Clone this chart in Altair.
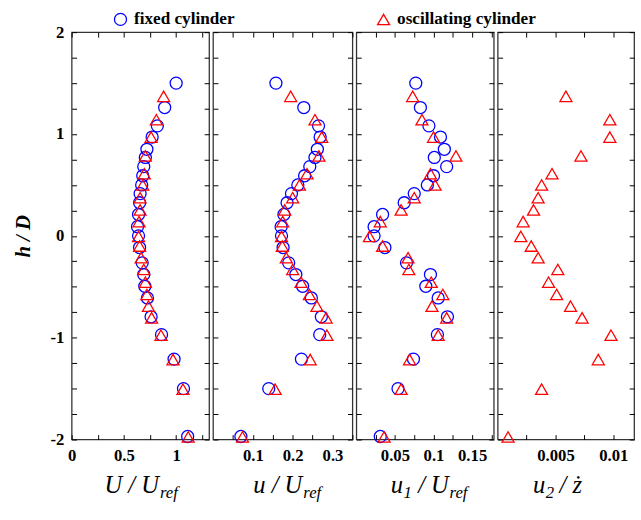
import altair as alt
import pandas as pd

SERIES = ["fixed cylinder", "oscillating cylinder"]

# vertical positions h/D
h_fixed = [1.50, 1.26, 1.08, 0.97, 0.85, 0.77, 0.68, 0.59, 0.50, 0.415, 0.325, 0.21, 0.09, 0.0,
           -0.115, -0.265, -0.38, -0.495, -0.61, -0.795, -0.97, -1.21, -1.50, -1.97]
h_osc = [1.37, 1.14, 0.97, 0.785, 0.61, 0.50, 0.375, 0.255, 0.14, -0.005, -0.10, -0.215, -0.33,
         -0.455, -0.575, -0.69, -0.805, -0.975, -1.215, -1.505, -1.975]

# panel values
U_fixed = [1.00, 0.89, 0.82, 0.77, 0.72, 0.705, 0.69, 0.68, 0.67, 0.655, 0.65, 0.64, 0.63, 0.64,
           0.65, 0.675, 0.69, 0.70, 0.725, 0.76, 0.86, 0.98, 1.07, 1.11]
U_osc = [0.88, 0.81, 0.76, 0.705, 0.695, 0.68, 0.655, 0.655, 0.645, 0.64, 0.65, 0.665, 0.69, 0.705,
         0.72, 0.735, 0.765, 0.855, 0.97, 1.065, 1.115]
u_fixed = [0.158, 0.228, 0.265, 0.269, 0.262, 0.256, 0.243, 0.230, 0.213, 0.197, 0.186, 0.178, 0.171,
           0.172, 0.176, 0.190, 0.208, 0.225, 0.247, 0.272, 0.268, 0.222, 0.140, 0.070]
u_osc = [0.195, 0.256, 0.273, 0.266, 0.236, 0.217, 0.200, 0.180, 0.175, 0.172, 0.174, 0.184, 0.200,
         0.221, 0.242, 0.261, 0.284, 0.286, 0.244, 0.156, 0.074]
u1_fixed = [0.077, 0.083, 0.094, 0.109, 0.114, 0.101, 0.117, 0.100, 0.092, 0.075, 0.062, 0.034, 0.023,
            0.023, 0.037, 0.065, 0.096, 0.090, 0.106, 0.118, 0.105, 0.074, 0.054, 0.031]
u1_osc = [0.073, 0.085, 0.100, 0.129, 0.096, 0.102, 0.075, 0.058, 0.031, 0.017, 0.034, 0.067, 0.068,
          0.097, 0.112, 0.098, 0.117, 0.106, 0.069, 0.058, 0.036]
u2_osc = [0.0059, 0.0097, 0.0097, 0.0072, 0.0047, 0.0038, 0.0035, 0.0031, 0.0022, 0.0020, 0.0029,
          0.0035, 0.0052, 0.0044, 0.0051, 0.0063, 0.0073, 0.0098, 0.0087, 0.0038, 0.0009]

# axis ticks / labels
y_labels = [-2, -1, 0, 1, 2]
y_ticks = [round(-2 + 0.25 * i, 2) for i in range(17)]
x1_labels = [0, 0.5, 1]
x1_ticks = [0, 0.25, 0.5, 0.75, 1, 1.25]
x2_labels = [0.1, 0.2, 0.3]
x2_ticks = [0.05, 0.1, 0.15, 0.2, 0.25, 0.3, 0.35]
x3_labels = [0.05, 0.1, 0.15]
x3_ticks = [0.025, 0.05, 0.075, 0.1, 0.125, 0.15, 0.175]
x4_labels = [0.005, 0.01]
x4_ticks = [0.0025, 0.005, 0.0075, 0.01]

H = 415
FONT = "Liberation Serif"
TY = H + 54   # baseline of main title text
SY = H + 60   # baseline of subscript text

# axis titles (text, x, y, size, align)
t1 = [("U / U", 89, TY, 25, "right"), ("ref", 90, SY, 17, "left")]
t2 = [("u / U", 91, TY, 25, "right"), ("ref", 92, SY, 17, "left")]
t3 = [("u", 47.5, TY, 25, "right"), ("1", 48, SY, 17, "left"), ("/ U", 63, TY, 25, "left"),
      ("ref", 95, SY, 17, "left")]
t4 = [("u", 48.5, TY, 25, "right"), ("2", 49, SY, 17, "left"), ("/ ż", 63, TY, 25, "left")]


def long_df(xf, xo):
    rows = []
    if xf is not None:
        rows += [{"h": h, "v": v, "s": SERIES[0]} for h, v in zip(h_fixed, xf)]
    rows += [{"h": h, "v": v, "s": SERIES[1]} for h, v in zip(h_osc, xo)]
    return pd.DataFrame(rows)


def tick_axis(orient, offset, values):
    return alt.Axis(orient=orient, offset=offset, values=values, labels=False, domain=False,
                    grid=False, title=None, ticks=True, tickSize=5, tickColor="black", tickWidth=1)


def legend():
    return alt.Legend(title=None, orient="none", legendX=41, legendY=-22, direction="horizontal",
                      columnPadding=142, labelFont=FONT, labelFontSize=17.5, labelFontWeight="bold",
                      labelColor="black", symbolSize=150, symbolStrokeWidth=1.3, labelOffset=5,
                      padding=0)


def panel(df, W, dom, lab_vals, tick_vals, pieces, first):
    xs = alt.Scale(domain=dom, nice=False, zero=False)
    ys = alt.Scale(domain=[-2, 2], nice=False, zero=False)
    xlab = alt.Axis(orient="bottom", values=lab_vals, labelExpr="toString(datum.value)", ticks=False,
                    domain=False, grid=False, title=None, labelFont=FONT, labelFontSize=17,
                    labelFontWeight="bold", labelColor="black", labelPadding=8, labelOverlap=False,
                    labelFlush=False)
    if first:
        ylab = alt.Axis(orient="left", values=y_labels, labelExpr="toString(datum.value)", ticks=False,
                        domain=False, grid=False, title="h / D", titleFont=FONT, titleFontSize=21,
                        titleFontStyle="italic", titleFontWeight="bold", titleColor="black",
                        titlePadding=17, labelFont=FONT, labelFontSize=17, labelFontWeight="bold",
                        labelColor="black", labelPadding=8, labelOverlap=False, labelFlush=False)
    else:
        ylab = None
    base = alt.Chart(df)
    pts = base.mark_point(filled=False, size=150, strokeWidth=1.3, opacity=1).encode(
        x=alt.X("v:Q", scale=xs, axis=xlab),
        y=alt.Y("h:Q", scale=ys, axis=ylab),
        color=alt.Color("s:N", scale=alt.Scale(domain=SERIES, range=["#0000ff", "#ff0000"]), legend=legend()),
        shape=alt.Shape("s:N", scale=alt.Scale(domain=SERIES, range=["circle", "triangle-up"]), legend=legend()),
    )
    inv1 = base.mark_point(opacity=0).encode(
        x=alt.X("v:Q", scale=xs, axis=tick_axis("top", -H, tick_vals)),
        y=alt.Y("h:Q", scale=ys, axis=tick_axis("right", -W, y_ticks)),
    )
    inv2 = base.mark_point(opacity=0).encode(
        x=alt.X("v:Q", scale=xs, axis=tick_axis("bottom", -H, tick_vals)),
        y=alt.Y("h:Q", scale=ys, axis=tick_axis("left", -W, y_ticks)),
    )
    txt = []
    for (t, x, y, size, align) in pieces:
        txt.append(
            alt.Chart(pd.DataFrame({"t": [t]})).mark_text(
                font=FONT, fontStyle="italic", fontSize=size, align=align, baseline="alphabetic",
                color="black").encode(x=alt.value(x), y=alt.value(y), text="t:N")
        )
    return alt.layer(pts, inv1, inv2, *txt).resolve_axis(x="independent", y="independent").properties(
        width=W, height=H)


p1 = panel(long_df(U_fixed, U_osc), 140, [0, 1.315], x1_labels, x1_ticks, t1, True)
p2 = panel(long_df(u_fixed, u_osc), 142, [0, 0.35], x2_labels, x2_ticks, t2, False)
p3 = panel(long_df(u1_fixed, u1_osc), 140, [0, 0.178], x3_labels, x3_ticks, t3, False)
p4 = panel(long_df(None, u2_osc), 139, [0, 0.0118], x4_labels, x4_ticks, t4, False)

chart = alt.hconcat(p1, p2, p3, p4, spacing=0).resolve_scale(
    x="independent", y="independent", color="shared", shape="shared"
).configure(padding={"left": 12, "top": 6, "right": 5, "bottom": 2}, background="white").configure_view(
    stroke="#333", strokeWidth=1.3)

chart.save("out.html", embed_options={"renderer": "svg", "actions": False})
